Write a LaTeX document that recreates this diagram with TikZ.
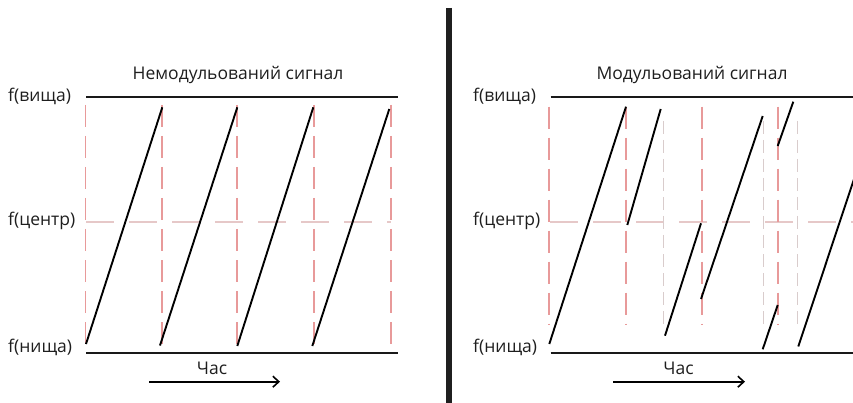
\documentclass[tikz,border=0pt]{standalone}
\usepackage{fontspec}
\setmainfont{Open Sans}
\usetikzlibrary{arrows.meta}
\definecolor{reddash}{HTML}{E89A9A}
\definecolor{pinkdash}{HTML}{E6C8C8}
\definecolor{greydash}{HTML}{D9CCCC}
\definecolor{ink}{HTML}{1E1E1E}
\tikzset{
  lbl/.style={font=\fontsize{17.5}{20}\selectfont, inner sep=0pt, text=ink},
  ttl/.style={font=\fontsize{17.5}{20}\selectfont, inner sep=0pt, text=ink},
  axisline/.style={line width=2pt, black!90},
  saw/.style={line width=1.9pt, black},
  redv/.style={line width=1.7pt, reddash, dash pattern=on 22pt off 9pt},
  pinkh/.style={line width=1.5pt, pinkdash, dash pattern=on 28pt off 15pt},
  greyv/.style={line width=1.2pt, greydash, dash pattern=on 13pt off 6pt},
  timearrow/.style={line width=1.6pt, -{Straight Barb[length=6pt,width=11pt,line width=1.6pt]}},
  divider/.style={line width=6.5pt, black!88}
}
\begin{document}
\begin{tikzpicture}[x=1pt,y=-1pt]
\useasboundingbox (0,0) rectangle (853,403);
% divider
\draw[divider] (449,8) -- (449,403);

% ===== left panel =====
\node[ttl] (t1) at (238,75) {Немодульований сигнал};
\node[lbl, anchor=west] (lh1) at (8,96) {f(вища)};
\node[lbl, anchor=west] (lc1) at (8,221) {f(центр)};
\node[lbl, anchor=west] (ll1) at (8,347) {f(нища)};
\coordinate (lt0) at (86,97.5);  \coordinate (lt1) at (398,97.5);
\coordinate (lb0) at (86,352.5); \coordinate (lb1) at (398,352.5);
\draw[pinkh] (86,222) -- (391,222);
\foreach \x in {85.5,162.3,237.3,314,390.7}
  \draw[redv] (\x,105) -- (\x,352);
\draw[axisline] (lt0) -- (lt1);
\draw[axisline] (lb0) -- (lb1);
\draw[saw] (86,344) -- (162.3,107.3);
\draw[saw] (160,345.5) -- (237.3,107.3);
\draw[saw] (237.3,346) -- (313.3,107.3);
\draw[saw] (312.3,346) -- (389.3,109);
\node[lbl] (tm1) at (212,368) {Час};
\coordinate (a1s) at (149,381.7); \coordinate (a1e) at (280,381.7);
\draw[timearrow] (a1s) -- (a1e);

% ===== right panel =====
\node[ttl] (t2) at (692,75) {Модульований сигнал};
\node[lbl, anchor=west] (lh2) at (473,96) {f(вища)};
\node[lbl, anchor=west] (lc2) at (473,221) {f(центр)};
\node[lbl, anchor=west] (ll2) at (473,347) {f(нища)};
\coordinate (rt0) at (550.7,97.5);  \coordinate (rt1) at (853,97.5);
\coordinate (rb0) at (550.7,352.5); \coordinate (rb1) at (853,352.5);
\draw[pinkh] (550,222) -- (853,222);
\foreach \x in {663.3,763.3,797.3}
  \draw[greyv] (\x,121) -- (\x,326);
\foreach \x in {549.3,626,701.7,778.3}
  \draw[redv] (\x,106.7) -- (\x,324);
\draw[axisline] (rt0) -- (rt1);
\draw[axisline] (rb0) -- (rb1);
\begin{scope}
\clip (450,0) rectangle (853,403);
\draw[saw] (549.3,344) -- (626,106.7);
\draw[saw] (627.3,225) -- (660.7,109);
\draw[saw] (665,335.7) -- (701,223.3);
\draw[saw] (701,299) -- (762.7,116);
\draw[saw] (777.7,146) -- (793.3,101.7);
\draw[saw] (762.7,349.3) -- (777.7,305);
\draw[saw] (798.3,346.5) -- (856,173);
\end{scope}
\node[lbl] (tm2) at (678.5,368) {Час};
\coordinate (a2s) at (613.3,381.7); \coordinate (a2e) at (745,381.7);
\draw[timearrow] (a2s) -- (a2e);
\end{tikzpicture}
\end{document}
